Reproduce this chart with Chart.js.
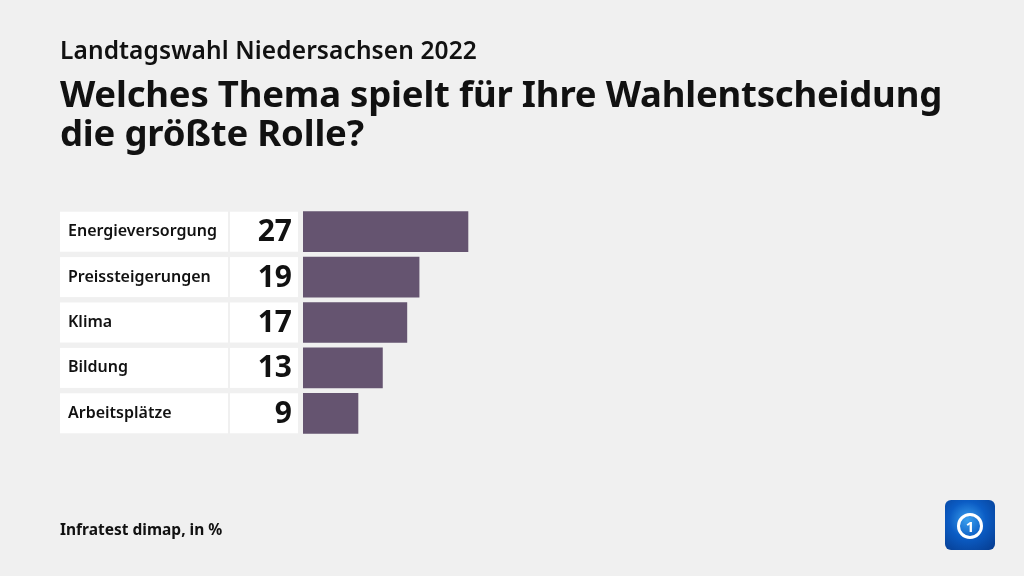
<!DOCTYPE html>
<html>
<head>
<meta charset="utf-8">
<script src="https://cdn.jsdelivr.net/npm/chart.js@4"></script>
<style>
  body { margin: 0; background: #f0f0f0; }
  #wrap { position: relative; width: 1024px; height: 576px; font-family: "Noto Sans", sans-serif; color: #111; }
  #chart { position: absolute; left: 0; top: 0; }
  .sub { position: absolute; left: 60px; top: 33px; font-size: 24.5px; font-weight: 600; letter-spacing: 0.1px; }
  .title { position: absolute; left: 60px; top: 74px; font-size: 36.5px; font-weight: 700; line-height: 39px; letter-spacing: -0.2px; }
  .source { position: absolute; left: 60px; top: 518px; font-size: 15.5px; font-weight: 700; }
  .logo { position: absolute; left: 945px; top: 500px; width: 50px; height: 50px; border-radius: 6px;
          background: radial-gradient(circle at 45% 40%, #3aa0ee 0%, #0b5cc4 45%, #063a8c 100%); }
  .logo div { position: absolute; left: 12px; top: 13px; width: 20px; height: 20px; border: 3px solid #fff; border-radius: 50%;
              color: #fff; font: 700 15px "Noto Sans"; text-align: center; line-height: 20px; }
</style>
</head>
<body>
<div id="wrap">
  <canvas id="chart" width="1024" height="576"></canvas>
  <div class="sub">Landtagswahl Niedersachsen 2022</div>
  <div class="title">Welches Thema spielt für Ihre Wahlentscheidung<br>die größte Rolle?</div>
  <div class="source">Infratest dimap, in %</div>
  <div class="logo"><div>1</div></div>
</div>
<script>
const categories = ['Energieversorgung', 'Preissteigerungen', 'Klima', 'Bildung', 'Arbeitsplätze'];
const values = [27, 19, 17, 13, 9];

// white label and value boxes next to each bar
const rowBoxes = {
    id: 'rowBoxes',
    beforeDatasetsDraw(chart) {
        const ctx = chart.ctx;
        const y = chart.scales.y;
        ctx.save();
        categories.forEach((cat, i) => {
            const cy = y.getPixelForValue(i);
            ctx.fillStyle = '#ffffff';
            ctx.fillRect(60, cy - 20, 168, 40);
            ctx.fillRect(230, cy - 20, 68, 40);
            ctx.fillStyle = '#111';
            ctx.textBaseline = 'middle';
            ctx.textAlign = 'left';
            ctx.font = '600 16px "Noto Sans"';
            ctx.fillText(cat, 68, cy);
            ctx.textAlign = 'right';
            ctx.font = '700 30px "Noto Sans"';
            ctx.fillText(values[i], 292, cy + 1);
        });
        ctx.restore();
    }
};

new Chart(document.getElementById('chart'), {
    type: 'bar',
    data: {
        labels: categories,
        datasets: [{
            data: values,
            backgroundColor: '#655470',
            barThickness: 40
        }]
    },
    options: {
        indexAxis: 'y',
        responsive: false,
        animation: false,
        layout: { padding: { left: 303, right: 110, top: 209, bottom: 140 } },
        plugins: { legend: { display: false }, tooltip: { enabled: false } },
        scales: {
            x: { display: false, min: 0, max: 100 },
            y: { display: false }
        }
    },
    plugins: [rowBoxes]
});
</script>
</body>
</html>
